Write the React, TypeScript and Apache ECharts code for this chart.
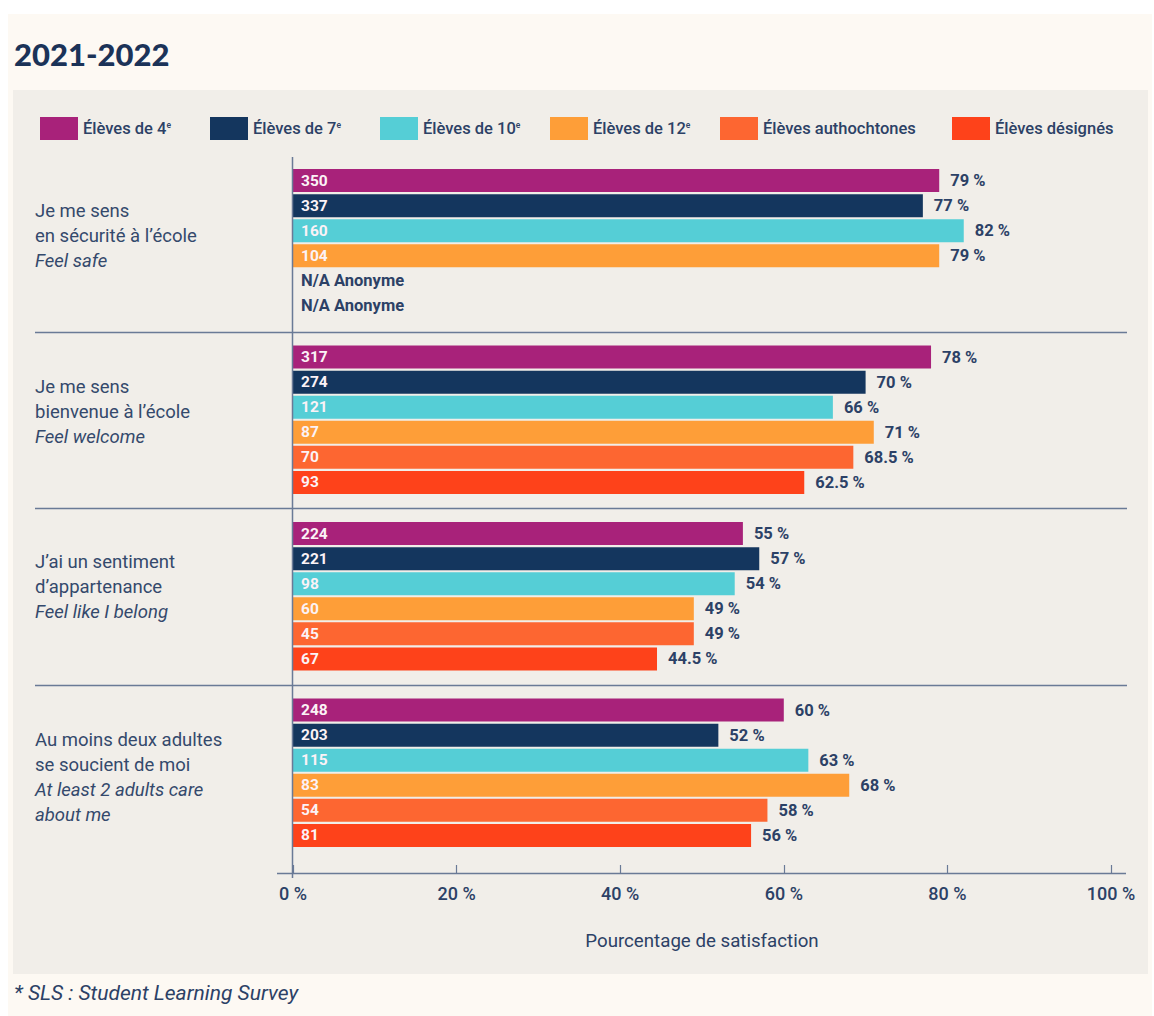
import React, { useEffect, useRef } from "react";
import * as echarts from "echarts";

// ---------- data ----------
const categories = ["safe", "welcome", "belong", "adults"];
const categoryFr = [
  ["Je me sens", "en sécurité à l’école"],
  ["Je me sens", "bienvenue à l’école"],
  ["J’ai un sentiment", "d’appartenance"],
  ["Au moins deux adultes", "se soucient de moi"],
];
const categoryEn = [
  ["Feel safe"],
  ["Feel welcome"],
  ["Feel like I belong"],
  ["At least 2 adults care", "about me"],
];
const seriesNames = [
  "Élèves de 4ᵉ",
  "Élèves de 7ᵉ",
  "Élèves de 10ᵉ",
  "Élèves de 12ᵉ",
  "Élèves authochtones",
  "Élèves désignés",
];
const seriesColors = ["#a8227a", "#14365e", "#55ced6", "#fe9e38", "#fd6631", "#fe421a"];
const pct4 = [79, 78, 55, 60];
const pct7 = [77, 70, 57, 52];
const pct10 = [82, 66, 54, 63];
const pct12 = [79, 71, 49, 68];
const pctAuth = [null, 68.5, 49, 58];
const pctDes = [null, 62.5, 44.5, 56];
const cnt4 = [350, 317, 224, 248];
const cnt7 = [337, 274, 221, 203];
const cnt10 = [160, 121, 98, 115];
const cnt12 = [104, 87, 60, 83];
const cntAuth = [null, 70, 45, 54];
const cntDes = [null, 93, 67, 81];
const naLabel = "N/A Anonyme";

const pctSeries = [pct4, pct7, pct10, pct12, pctAuth, pctDes];
const cntSeries = [cnt4, cnt7, cnt10, cnt12, cntAuth, cntDes];

// ---------- layout / style ----------
const W = 1154;
const H = 1016;
const GRID_LEFT = 293;
const GRID_RIGHT_X = 1111;
const GRID_TOP = 155;
const GRID_BOTTOM_Y = 861;
const AXIS_OFFSET = 12;
const NAVY = "#2c4166";
const LABEL_NAVY = "#34496c";
const LINE = "#6a7a96";
const FONT = "Roboto, 'Noto Sans', sans-serif";
const legendLefts = [35, 205, 375, 545, 715, 947];
// per-category vertical nudge of the left labels (trailing / leading spacer heights)
const labelTrail = [14, 16, 18, 0];
const labelLead = [0, 0, 0, 10];

export default function App() {
  const ref = useRef<HTMLDivElement>(null);

  useEffect(() => {
    if (!ref.current) return;
    const chart = echarts.init(ref.current, undefined, { renderer: "svg" });

    const barSeries: any[] = [];
    seriesNames.forEach((name, i) => {
      barSeries.push({
        name,
        type: "bar",
        yAxisIndex: 0,
        barWidth: 23,
        barGap: "9%",
        data: cntSeries[i].map((c, k) =>
          pctSeries[i][k] == null ? "-" : { value: pctSeries[i][k], count: c }
        ),
        itemStyle: { color: seriesColors[i] },
        label: {
          show: true,
          position: "insideLeft",
          distance: 8,
          color: "#fbf2f6",
          fontFamily: FONT,
          fontWeight: "bold",
          fontSize: 15.5,
          formatter: (p: any) => (p.data && p.data.count != null ? String(p.data.count) : ""),
        },
        emphasis: { disabled: true },
      });
    });
    seriesNames.forEach((name, i) => {
      barSeries.push({
        name: name + " %",
        type: "bar",
        yAxisIndex: 1,
        barWidth: 23,
        barGap: "9%",
        silent: true,
        data: pctSeries[i].map((v) =>
          v == null ? { value: 0, na: true, label: { distance: 8 } } : { value: v }
        ),
        itemStyle: { color: "rgba(0,0,0,0)" },
        label: {
          show: true,
          position: "right",
          distance: 11,
          color: NAVY,
          fontFamily: FONT,
          fontWeight: "bold",
          fontSize: 16.5,
          formatter: (p: any) => (p.data && p.data.na ? naLabel : `${p.value} %`),
        },
        emphasis: { disabled: true },
      });
    });

    const catLabel = (idx: number) => {
      const fr = categoryFr[idx].map((t) => `{a|${t}}`);
      const en = categoryEn[idx].map((t) => `{i|${t}}`);
      const lines = [...fr, ...en];
      if (labelLead[idx]) lines.unshift(`{lead${idx}| }`);
      if (labelTrail[idx]) lines.push(`{trail${idx}| }`);
      return lines.join("\n");
    };
    const spacerRich: any = {};
    categories.forEach((_c, idx) => {
      spacerRich[`lead${idx}`] = { fontSize: 1, lineHeight: labelLead[idx] || 1 };
      spacerRich[`trail${idx}`] = { fontSize: 1, lineHeight: labelTrail[idx] || 1 };
    });

    const legends = seriesNames.map((name, i) => ({
      data: [name],
      left: legendLefts[i],
      top: 112,
      itemWidth: 38,
      itemHeight: 23,
      itemGap: 0,
      selectedMode: false,
      icon: "rect",
      textStyle: {
        color: NAVY,
        fontFamily: FONT,
        fontSize: 16.5,
        fontWeight: 500,
        rich: {
          t: { color: NAVY, fontFamily: FONT, fontSize: 16.5, fontWeight: 500 },
          s: { color: NAVY, fontFamily: FONT, fontSize: 8.5, fontWeight: 500, padding: [0, 0, 8, 0] },
        },
      },
      formatter: (n: string) => {
        if (n.endsWith("ᵉ")) return `{t|${n.slice(0, -1)}}{s|e}`;
        return `{t|${n}}`;
      },
    }));

    const yAxisBase = {
      type: "category",
      data: categories,
      inverse: true,
      axisLine: { show: false },
      axisTick: { show: false },
      splitLine: { show: false },
    };

    chart.setOption({
      animation: false,
      backgroundColor: "#ffffff",
      legend: legends,
      grid: {
        left: GRID_LEFT,
        right: W - GRID_RIGHT_X,
        top: GRID_TOP,
        bottom: H - GRID_BOTTOM_Y,
        containLabel: false,
      },
      xAxis: {
        type: "value",
        min: 0,
        max: 100,
        interval: 20,
        offset: AXIS_OFFSET,
        axisLine: { show: false },
        axisTick: { show: true, inside: true, length: 8, lineStyle: { color: LINE, width: 1.2 } },
        splitLine: { show: false },
        axisLabel: {
          formatter: (v: number) => `${v} %`,
          color: NAVY,
          fontFamily: FONT,
          fontSize: 18,
          fontWeight: 500,
          margin: 11,
        },
        name: "Pourcentage de satisfaction",
        nameLocation: "middle",
        nameGap: 58,
        nameTextStyle: { color: NAVY, fontFamily: FONT, fontSize: 18.7, fontWeight: 400 },
      },
      yAxis: [
        {
          ...yAxisBase,
          axisLabel: {
            show: true,
            align: "left",
            margin: GRID_LEFT - 35,
            formatter: (_v: string, idx: number) => catLabel(idx),
            rich: {
              a: { color: LABEL_NAVY, fontFamily: FONT, fontSize: 18.5, lineHeight: 25 },
              i: { color: LABEL_NAVY, fontFamily: FONT, fontSize: 18.5, lineHeight: 25, fontStyle: "italic" },
              ...spacerRich,
            },
          },
        },
        { ...yAxisBase, show: false },
      ],
      series: barSeries,
    });

    // decorative frame, separators and axis lines, positioned via the axes
    const centers = categories.map((c) => chart.convertToPixel({ yAxisIndex: 0 }, c) as number);
    const x0 = chart.convertToPixel({ xAxisIndex: 0 }, 0) as number;
    const x100 = chart.convertToPixel({ xAxisIndex: 0 }, 100) as number;
    const axisY = GRID_BOTTOM_Y + AXIS_OFFSET;
    const separators = centers.slice(0, -1).map((c, i) => {
      const y = Math.round((c + centers[i + 1]) / 2) + 0.5;
      return {
        type: "line",
        shape: { x1: 35, y1: y, x2: x100 + 16, y2: y },
        style: { stroke: LINE, lineWidth: 1.5 },
        z: 10,
        silent: true,
      };
    });

    chart.setOption({
      graphic: [
        {
          type: "rect",
          shape: { x: 8, y: 14, width: W - 10, height: H - 14 },
          style: { fill: "#fdf9f3" },
          z: -10,
          silent: true,
        },
        {
          type: "rect",
          shape: { x: 13, y: 90, width: 1135, height: 884 },
          style: { fill: "#f1eee9" },
          z: -9,
          silent: true,
        },
        {
          type: "text",
          x: 14,
          y: 54,
          style: {
            text: "2021-2022",
            fill: "#1b3358",
            font: "900 31px Lato, sans-serif",
            verticalAlign: "middle",
          },
          silent: true,
        },
        {
          type: "text",
          x: 14,
          y: 993,
          style: {
            text: "* SLS : Student Learning Survey",
            fill: NAVY,
            font: `italic 400 21px ${FONT}`,
            verticalAlign: "middle",
          },
          silent: true,
        },
        ...separators,
        {
          type: "line",
          shape: { x1: x0 - 16, y1: axisY + 0.5, x2: x100 + 15, y2: axisY + 0.5 },
          style: { stroke: LINE, lineWidth: 1.5 },
          z: 10,
          silent: true,
        },
        {
          type: "line",
          shape: { x1: x0 - 0.5, y1: GRID_TOP + 2, x2: x0 - 0.5, y2: axisY + 5 },
          style: { stroke: LINE, lineWidth: 1.5 },
          z: 10,
          silent: true,
        },
      ],
    });

    return () => chart.dispose();
  }, []);

  return (
    <div
      ref={ref}
      style={{ position: "absolute", left: 0, top: 0, width: W, height: H }}
    />
  );
}
